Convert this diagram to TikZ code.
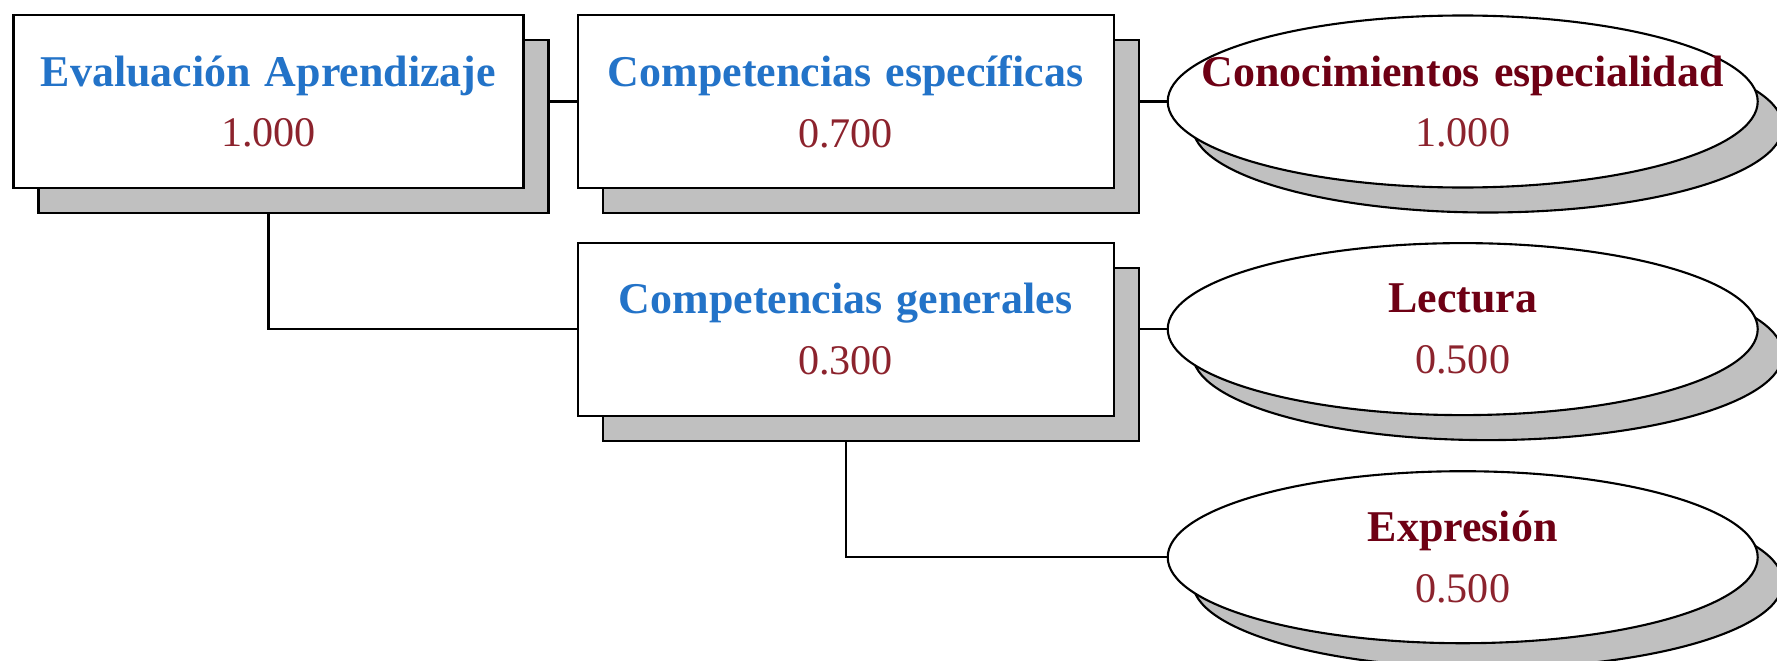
\documentclass[tikz,border=0pt]{standalone}
\usepackage{fontspec}
\setmainfont{Liberation Serif}
\usepackage{tikz}
\usetikzlibrary{shapes.geometric, positioning, shadows, backgrounds}
\definecolor{ttlblue}{RGB}{35,115,200}
\definecolor{valred}{RGB}{140,35,45}
\definecolor{leafred}{RGB}{110,0,20}
\definecolor{shadegray}{RGB}{192,192,192}
\newcommand{\crit}[3]{{\color{#1}\bfseries\fontsize{12.5}{17.3}\selectfont\makebox[\linewidth]{#2}}\\#3}
\tikzset{
  critbox/.style={rectangle, draw=black, fill=white, line width=0.6pt,
    minimum width=53.6mm, minimum height=17.3mm, text width=50mm,
    align=center, inner sep=0pt, text=valred,
    font=\fontsize{12}{17.3}\selectfont,
    drop shadow={shadow xshift=2.5mm, shadow yshift=-2.5mm,
      fill=shadegray, draw=black, line width=0.6pt, opacity=1}},
  leafnode/.style={ellipse, draw=black, fill=white, line width=0.6pt,
    minimum width=59mm, minimum height=17.2mm, text width=30mm,
    align=center, inner sep=0pt, text=valred,
    font=\fontsize{12}{17.3}\selectfont,
    drop shadow={shadow xshift=2.5mm, shadow yshift=-2.5mm,
      fill=shadegray, draw=black, line width=0.6pt, opacity=1}},
  link/.style={line width=0.6pt, color=black}
}
\begin{document}
\begin{tikzpicture}[node distance=5.2mm and 5.2mm]
  \useasboundingbox (0,0) rectangle (177.7mm,-66.1mm);

  % Nodes
  \node[critbox, minimum width=51mm] (evalap) at (26.85mm,-10.15mm)
    {\crit{ttlblue}{Evaluación Aprendizaje}{1.000}};
  \node[critbox, right=5.2mm of evalap] (cesp)
    {\crit{ttlblue}{Competencias específicas}{0.700}};
  \node[critbox, below=5.25mm of cesp] (cgen)
    {\crit{ttlblue}{Competencias generales}{0.300}};
  \node[leafnode, right=5.2mm of cesp] (conesp)
    {\crit{leafred}{Conocimientos especialidad}{1.000}};
  \node[leafnode, right=5.2mm of cgen] (lect)
    {\crit{leafred}{Lectura}{0.500}};
  \node[leafnode, below=5.4mm of lect] (expr)
    {\crit{leafred}{Expresión}{0.500}};

  % Connectors
  \begin{scope}[on background layer]
    \draw[link] (evalap.center) -- (cesp.west);
    \draw[link] (evalap.center) |- (cgen.west);
    \draw[link] (cesp.center) -- (conesp.west);
    \draw[link] (cgen.center) -- (lect.west);
    \draw[link] (cgen.center) |- (expr.west);
  \end{scope}
\end{tikzpicture}
\end{document}
